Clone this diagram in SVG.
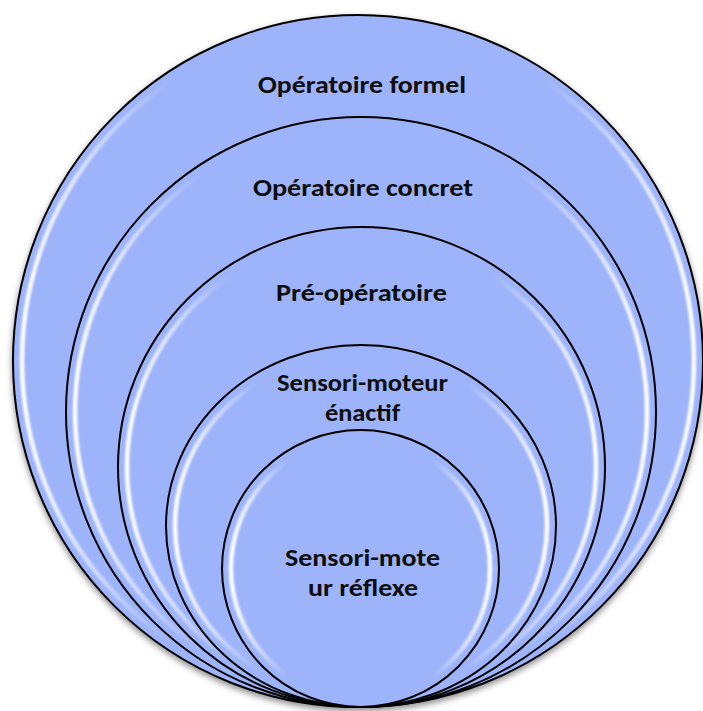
<svg xmlns="http://www.w3.org/2000/svg" width="703" height="711" viewBox="0 0 703 711">
  <defs>
    <linearGradient id="hl" x1="0" y1="0" x2="1" y2="0">
      <stop offset="0" stop-color="#ffffff" stop-opacity="1"/>
      <stop offset="0.22" stop-color="#ffffff" stop-opacity="0"/>
      <stop offset="0.78" stop-color="#ffffff" stop-opacity="0"/>
      <stop offset="1" stop-color="#ffffff" stop-opacity="1"/>
    </linearGradient>
    <filter id="blur" x="-10%" y="-10%" width="120%" height="120%">
      <feGaussianBlur stdDeviation="1.3"/>
    </filter>
    <filter id="shadow" x="-10%" y="-10%" width="120%" height="120%">
      <feDropShadow dx="0" dy="3" stdDeviation="3" flood-color="#000000" flood-opacity="0.45"/>
    </filter>
  </defs>
  <style>
    .disc { fill: #9eb4fa; stroke: #000000; stroke-width: 2; }
    .gloss { fill: none; stroke: url(#hl); stroke-width: 4.5; filter: url(#blur); }
    .lbl { font-family: Carlito, Lato, "Liberation Sans", sans-serif; font-weight: 900; font-size: 24px; fill: #0d0d0d; text-anchor: middle; }
  </style>
  <rect width="703" height="711" fill="#ffffff"/>
  <g id="formel" filter="url(#shadow)">
    <ellipse class="disc" cx="358" cy="361" rx="345" ry="346"/>
    <ellipse class="gloss" cx="358" cy="361" rx="336" ry="337"/>
  </g>
  <g id="concret">
    <ellipse class="disc" cx="361" cy="412" rx="295" ry="295"/>
    <ellipse class="gloss" cx="361" cy="412" rx="286" ry="286"/>
  </g>
  <g id="preoperatoire">
    <ellipse class="disc" cx="361.5" cy="467" rx="243.5" ry="240"/>
    <ellipse class="gloss" cx="361.5" cy="467" rx="234.5" ry="231"/>
  </g>
  <g id="enactif">
    <ellipse class="disc" cx="361" cy="526" rx="195" ry="181"/>
    <ellipse class="gloss" cx="361" cy="526" rx="186" ry="172"/>
  </g>
  <g id="reflexe">
    <ellipse class="disc" cx="360.5" cy="568.5" rx="138.5" ry="138.5"/>
    <ellipse class="gloss" cx="360.5" cy="568.5" rx="129.5" ry="129.5"/>
  </g>
  <g id="labels">
    <text class="lbl" x="362" y="93" textLength="208" lengthAdjust="spacingAndGlyphs">Opératoire formel</text>
    <text class="lbl" x="363" y="196" textLength="220" lengthAdjust="spacingAndGlyphs">Opératoire concret</text>
    <text class="lbl" x="361.5" y="301" textLength="171" lengthAdjust="spacingAndGlyphs">Pré-opératoire</text>
    <text class="lbl" x="362.5" y="391" textLength="171" lengthAdjust="spacingAndGlyphs">Sensori-moteur</text>
    <text class="lbl" x="362.5" y="421" textLength="75" lengthAdjust="spacingAndGlyphs">énactif</text>
    <text class="lbl" x="362.5" y="566" textLength="155" lengthAdjust="spacingAndGlyphs">Sensori-mote</text>
    <text class="lbl" x="363" y="596" textLength="110" lengthAdjust="spacingAndGlyphs">ur réflexe</text>
  </g>
  <g id="connectors"/>
</svg>
